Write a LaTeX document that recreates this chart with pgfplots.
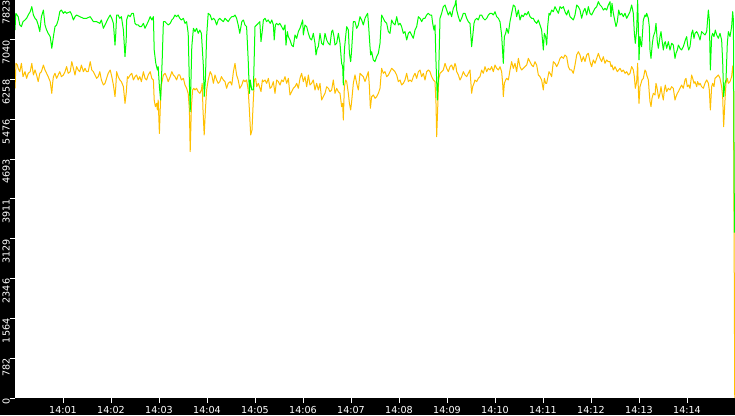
\documentclass[border=0pt]{standalone}
\usepackage{fontspec}
\setmainfont{DejaVu Sans}
\usepackage{pgfplots}
\usepackage{pgfplotstable}
\pgfplotsset{compat=1.18}
\definecolor{grn}{RGB}{0,255,0}
\definecolor{amb}{RGB}{255,192,0}

% time in seconds after 14:00:00, value
\pgfplotstableread{
t v
0 7233
1 7561
4 7495
6 7332
8 7299
10 7397
12.5 7430
14.5 7463
16.5 7528
19 7594
21 7692
23 7528
25 7463
27 7430
29 7332
31 7201
33 7495
35.5 7626
37.5 7332
39.5 7233
41.5 7168
44 7102
46 6873
48 7102
50 7299
52 7332
54 7430
56 7594
58 7626
60.5 7561
62.5 7594
64.5 7561
69 7594
71 7528
73 7430
75 7495
77 7528
81 7495
85.5 7463
89.5 7463
94 7495
98 7397
102 7397
106 7364
108 7430
110.5 7266
112.5 7332
114.5 7397
116.5 7463
119 7528
121 7463
123 7364
125 6938
126 7168
127 7528
129 7528
131 7463
133 7495
135.5 7233
137.5 6709
139 7037
139.5 7430
141.5 7528
144 7495
146 7561
148 7561
150 7364
152 7332
154 7332
156 7299
158 7299
160.5 7364
162.5 7266
164.5 7332
166.5 7397
169 7495
171 7430
173 7495
174 6840
176 6578
178 6447
179 6513
180.5 6119
182 5857
184 6644
185.5 7397
187.5 7397
189.5 7364
191.5 7332
194 7364
196 7430
198 7463
200 7528
202 7495
204 7528
206 7463
208 7430
210.5 7463
212.5 7364
214.5 7397
216.5 7168
218 6185
219 5628
221 6906
223 7266
225 7201
227 7266
229 7168
231 7233
233 7168
235.5 6513
236.5 5923
238 6251
239.5 7102
241.5 7561
244 7528
246 7430
248 7463
250 7430
252 7332
254 7430
256 7463
258 7430
260.5 7397
262.5 7463
264.5 7430
266.5 7397
269 7463
271 7495
273 7495
275 7528
277 7463
279 7332
281 7168
283.5 7397
285.5 7430
287.5 7332
289.5 7299
291.5 6644
293 5988
294 6251
296 6054
298 6054
300 7299
302 7332
304 7364
306 7397
307.5 7004
309 7201
310.5 7430
312.5 7463
314.5 7397
316.5 7430
319 7364
321 7430
323 7332
324 7037
325.5 7332
327 7364
329 7332
331 7364
333.3 7299
335.4 7233
337.5 7332
338.75 6938
340.4 7201
341.7 7102
343.75 7037
345.8 6938
347.9 6906
350 7135
352.1 7070
354.2 7201
356.25 7266
358.3 7364
359.6 7430
360.4 7135
362.5 7332
364.6 7299
366.7 7168
368.75 7070
370.8 7037
372.9 7168
375 6971
376.25 6742
377.9 6873
379.2 6906
381.25 7168
383.3 6971
385.4 6938
387.5 7168
389.6 7037
391.7 6971
393.75 6938
395.8 7201
397.1 7233
398.75 7102
400 6938
402.1 6971
404.2 7168
406.25 6971
408.3 6578
409.6 6513
410.4 6152
411.7 6840
413.3 7102
414.6 7299
416.7 7233
418 6775
419.6 6611
420.8 6840
422.9 7397
425 7397
427.1 7266
429.2 7332
431.25 7495
433.3 7430
435.4 7332
437.5 7463
439.6 7528
440.8 7561
442.1 7299
443.75 6906
444.6 6742
445.8 6807
447.9 6644
450 6611
452.1 6709
454.2 6775
456.25 6971
458.3 7528
460.4 7463
462.5 7397
464.6 7364
466.7 7201
468.75 7168
470.8 7430
472.9 7364
475 7332
477.1 7495
479.2 7332
481.25 7364
483.3 7299
485.4 7168
487.5 7201
489.6 7037
491.7 7168
493.75 7201
495.8 7135
497.9 7070
500 7233
502.1 7299
504.2 7495
506.25 7463
508.3 7397
510.4 7463
512.5 7463
514.6 7528
516.7 7561
518.75 7528
520.8 7528
522.1 7364
523.75 7233
525 7332
526.25 6611
527.9 5857
529.6 6382
531.25 7463
533.3 7561
535.4 7692
537.5 7725
539.6 7626
541.7 7528
543.75 7594
545.8 7495
547.9 7659
550 7725
551.25 7823
552.1 7626
554.2 7495
556.25 7397
558.3 7463
560.4 7561
562.5 7561
564.6 7463
566.7 7397
568.75 7364
570.8 6906
572.1 7102
573.75 7364
575 7430
577.1 7463
579.2 7430
581.25 7528
583.3 7528
585.4 7463
587.5 7430
589.6 7463
591.7 7528
593.75 7561
595.8 7561
597.9 7528
600 7594
602.1 7495
604.2 7463
606.25 7397
608.3 7135
610.4 6578
611.7 7102
613.3 7168
614.6 7266
616.7 7168
618.75 7397
620.8 7561
622.9 7725
625 7692
627.1 7495
629.2 7626
631.25 7430
633.3 7528
635.4 7495
637.5 7561
639.6 7528
641.7 7594
643.75 7495
645.8 7463
647.9 7463
650 7397
652.1 7364
654.2 7430
656.25 7332
658.3 7233
660.4 6840
661.7 7168
663.3 7102
664.6 6938
665.8 7299
667.5 7561
668.75 7528
670.8 7626
672.9 7594
675 7692
677.1 7626
679.2 7561
681.25 7692
683.3 7659
685.4 7692
687.5 7594
689.6 7528
691.7 7626
693.75 7495
695.8 7463
697.9 7430
700 7528
702.1 7725
704.2 7692
706.25 7626
708.3 7463
710.4 7594
712.5 7659
714.6 7528
716.7 7692
718.75 7561
720.8 7528
722.9 7594
725 7659
727.1 7692
729.2 7790
731.25 7725
733.3 7692
735.4 7626
737.5 7659
739.6 7626
741.7 7725
743.75 7790
745 7495
746.25 7757
747.9 7561
750 7397
751.25 7299
752.9 7397
754.6 7626
756.25 7528
758.3 7561
760.4 7495
762.5 7561
764.6 7463
766.7 7528
768.75 7594
770.8 7725
772.9 7561
774.2 7168
775.4 6971
777.1 7233
778.3 7823
779.2 7299
780 6644
781.25 7102
782.1 6971
783.3 6906
785.4 7430
787.5 7528
788.75 7495
789.6 7561
791.7 7463
792.9 7299
793.75 6840
795 6676
796.7 6971
797.9 7102
800 7201
801.25 7364
802.9 7004
804.2 6873
806.25 7102
807.5 7201
808.75 7037
810.4 6840
811.7 6971
812.9 7004
814.6 6873
816.7 7004
818.75 6840
820.8 6971
822.9 6938
825 6676
826.25 6775
827.9 6840
829.2 6938
831.25 6873
833.3 6840
835.4 6906
836.7 6971
837.9 7037
839.6 7102
840.8 6938
842.1 6840
843.75 6906
845.8 7168
847.1 7233
848.75 7070
850 7168
852.1 7201
853.3 7168
855 7102
856.25 7037
858.3 7201
860.4 7168
862.5 7135
864.6 7201
866.7 7626
867.9 7430
869.2 6447
870.8 7102
872.1 7168
873.75 7102
875.4 7233
877.1 7135
879.2 7070
881.25 7168
883.3 7037
884.6 6611
885.8 5923
887.5 6185
888.75 6251
890.4 6971
891.7 7201
893.75 7102
895.8 7299
897.1 7594
898 7430
899.3 3250
}\greenline

\pgfplotstableread{
t v
0 6087
1.25 6578
3 6545
4 6480
6 6414
8 6578
10 6316
12.5 6414
14.5 6283
16.5 6382
19 6414
21 6578
23 6349
25 6447
27 6349
29 6218
31 6382
33 6414
35.5 6545
37.5 6447
39.5 6382
41.5 6316
44 6218
46 5988
47 6185
48 6316
50 6382
52 6283
54 6349
56 6414
58 6316
60.5 6349
62.5 6414
64.5 6513
66.5 6382
69 6414
71 6611
73 6480
75 6349
77 6513
79 6447
81 6414
83 6545
85.5 6414
87.5 6480
89.5 6414
91.5 6414
94 6611
96 6447
98 6414
100 6349
102 6283
104 6316
106 6414
108 6251
110.5 6152
112.5 6185
114.5 6283
116.5 6382
119 6447
121 6316
123 6152
125 5923
126 6119
127 6414
129 6316
131 6251
133 6218
135.5 6119
137.5 5792
139 5988
140.5 6316
141.5 6283
144 6349
146 6382
148 6251
150 6316
152 6349
154 6251
156 6316
158 6218
160.5 6414
162.5 6283
164.5 6251
166.5 6349
169 6414
171 6283
173 6251
174 5857
175.5 5726
177 5792
178 5661
179 5857
180.5 5200
181.5 5661
182.5 6119
185.5 6349
187.5 6382
189.5 6316
191.5 6218
194 6316
196 6414
198 6349
200 6316
202 6251
204 6349
206 6349
208 6251
210.5 6283
212.5 6152
214.5 6087
216.5 5988
218 5661
219 4842
220.5 5726
222 6054
223.5 6087
225 6054
227 6087
229 6021
231 5988
233 6054
234 6185
235 5661
236.5 5170
238 5661
239.5 6054
241.5 6251
244 6414
246 6349
248 6185
250 6349
252 6251
254 6185
256 6218
258 6316
260.5 6251
262.5 6218
264.5 6087
266.5 6185
269 6218
271 6152
273 6414
275 6578
277 6349
279 6251
281 6087
283.5 6152
285.5 6251
287.5 6218
289.5 6251
291.5 6054
293 5661
294.6 5170
296.25 5268
297.9 5857
299.2 6251
300.8 6283
302.1 6119
304.2 6185
306.25 6087
307.5 6021
309.2 6251
310.4 6218
312.5 6251
314.6 6185
316.7 6283
318.75 6087
320.8 6119
322.9 6218
325 5988
327.1 6251
329.2 6218
331.25 6152
333.3 6251
335.4 6218
337.5 6316
339.6 6185
341.7 6283
343.75 5956
345.8 6021
347.9 6087
350 6119
352.1 6185
354.2 6087
356.25 6283
358.3 6382
360.4 6218
362.5 6316
364.6 6119
366.7 6349
368.75 6152
370.8 6185
372.9 6251
375 6054
377.1 6185
379.2 6054
381.25 6185
383.3 5857
385.4 5923
387.5 5988
389.6 6119
391.7 6087
393.75 6021
395.8 6054
397.9 6251
400 5988
402.1 6087
404.2 6021
406.25 5988
408.3 5726
409.6 5792
410.4 5464
411.7 6119
413.3 6251
414.6 6218
416.7 5988
418 5792
419.6 5661
420.8 5825
422.9 6185
425 6349
427.1 6185
429.2 6054
431.25 6382
433.3 6349
435.4 6316
437.5 6218
439.6 6316
441.7 6414
443 6119
444.2 5694
445.8 5923
447.9 5956
450 5890
452.1 5923
454.2 5988
456.25 6087
458.3 6480
460.4 6382
462.5 6414
464.6 6316
466.7 6349
468.75 6414
470.8 6480
472.9 6447
475 6414
477.1 6349
479.2 6218
481.25 6251
483.3 6152
485.4 6185
487.5 6251
489.6 6382
491.7 6218
493.75 6251
495.8 6218
497.9 6316
500 6382
502.1 6283
504.2 6414
506.25 6447
508.3 6316
510.4 6382
512.5 6251
514.6 6414
516.7 6447
518.75 6414
520.8 6316
522.9 6251
525 6218
526.25 5792
527.1 5136
528.3 5661
529.6 6251
531.25 6382
533.3 6414
535.4 6447
537.5 6578
539.6 6480
541.7 6414
543.75 6513
545.8 6545
547.9 6447
550 6578
551.25 6513
552.1 6414
554.2 6349
556.25 6251
558.3 6316
560.4 6414
562.5 6349
564.6 6316
566.7 6382
568.75 6447
570.8 5988
572.1 6119
573.75 6185
575 6251
577.1 6218
579.2 6283
581.25 6316
583.3 6447
585.4 6382
587.5 6513
589.6 6414
591.7 6480
593.75 6447
595.8 6513
597.9 6414
600 6545
602.1 6480
604.2 6447
606.25 6513
608.3 6414
609.6 6185
610.4 5923
611.7 6185
613.3 6251
614.6 6283
616.7 6251
618.75 6447
620.8 6611
622.9 6480
625 6578
627.1 6414
629.2 6676
631.25 6513
633.3 6447
635.4 6480
637.5 6513
639.6 6545
641.7 6676
643.75 6611
645.8 6545
647.9 6513
650 6611
652.1 6545
654.2 6349
656.25 6316
658.3 6251
660.4 6054
661.7 6283
663.3 6185
664.6 6185
665.8 6283
667.5 6414
668.75 6382
670.8 6316
672.9 6611
675 6578
677.1 6513
679.2 6578
681.25 6676
683.3 6709
685.4 6676
687.5 6742
689.6 6709
691.7 6513
693.75 6447
695.8 6447
697.9 6382
700 6545
702.1 6742
704.2 6807
706.25 6742
708.3 6611
710.4 6709
712.5 6611
714.6 6742
716.7 6775
718.75 6611
720.8 6513
722.9 6644
725 6578
727.1 6676
729.2 6775
731.25 6676
733.3 6611
735.4 6709
737.5 6578
739.6 6644
741.7 6611
743.75 6611
745 6513
746.25 6545
747.9 6447
750 6513
752.9 6414
754.6 6447
756.25 6480
758.3 6414
760.4 6447
762.5 6382
764.6 6414
766.7 6349
768.75 6382
770.8 6513
772.9 6447
774.2 6316
775.4 6087
777.1 6218
778.3 6578
779.2 6054
780 5792
781.25 6119
782.5 6185
783.75 6251
785.4 6283
787.5 6447
788.75 6414
789.6 6349
791.7 6251
792.9 5988
793.75 5825
795 5726
796.25 5890
797.9 5988
800 5956
801.25 6185
802.3 6119
804.6 5890
806.25 5988
807.5 6119
808.75 5988
810.4 5857
811.7 6054
812.9 6152
814.6 6021
816.7 6087
818.75 6054
820.8 6119
822.9 6087
825 5857
826.25 5923
827.9 5988
829.2 6021
831.25 6087
833.3 6152
835.4 6087
837.5 6251
838.75 6283
840.4 6119
842.1 6152
843.75 6087
845.8 6349
847.1 6283
848.75 6185
850 6218
852.1 6119
853.3 6218
855 6152
856.25 6185
858.3 6119
860.4 6087
862.5 6185
864.6 6251
866.7 6185
867.9 6054
869.2 5661
870.8 6119
872.1 6185
873.75 6119
875 6283
877.1 6316
879.2 6349
881.25 6283
883.3 6119
884.6 5923
885.8 5333
887.5 5857
888.75 6185
890.4 6283
891.7 6185
893.75 6218
895.8 6316
897.1 6513
898 6545
899.7 0
}\orangeline

\begin{document}
\begin{tikzpicture}[x=1pt,y=1pt]
\fill[black] (0,0) rectangle (735,415);
\begin{axis}[
    at={(15pt,17pt)}, anchor=south west,
    scale only axis,
    width=720pt, height=398pt,
    xmin=0, xmax=900,
    ymin=0, ymax=7823,
    axis line style={draw=none},
    axis background/.style={fill=white},
    tick align=outside,
    xtick pos=left, ytick pos=left,
    xtick={60,120,180,240,300,360,420,480,540,600,660,720,780,840},
    xticklabels={14:01,14:02,14:03,14:04,14:05,14:06,14:07,14:08,14:09,14:10,14:11,14:12,14:13,14:14},
    ytick={0,782.3,1564.6,2346.9,3129.2,3911.5,4693.8,5476.1,6258.4,7040.7,7823},
    yticklabels={0,782,1564,2346,3129,3911,4693,5476,6258,7040,7823},
    minor tick num=0,
    major tick style={white, line width=1pt},
    major tick length=5pt,
    ticklabel style={text=white, font=\fontsize{9.6}{10}\selectfont},
    yticklabel style={rotate=90, anchor=south east, inner sep=0pt},
    xticklabel style={anchor=north, inner sep=0pt, text height=7pt, text depth=0pt, yshift=-3pt},
    every axis plot/.append style={line width=1pt, line join=round, mark=none},
]
\addplot[amb] table {\orangeline};
\addplot[grn] table {\greenline};
\end{axis}
\pgfresetboundingbox
\useasboundingbox (0,0) rectangle (735,415);
\end{tikzpicture}
\end{document}
